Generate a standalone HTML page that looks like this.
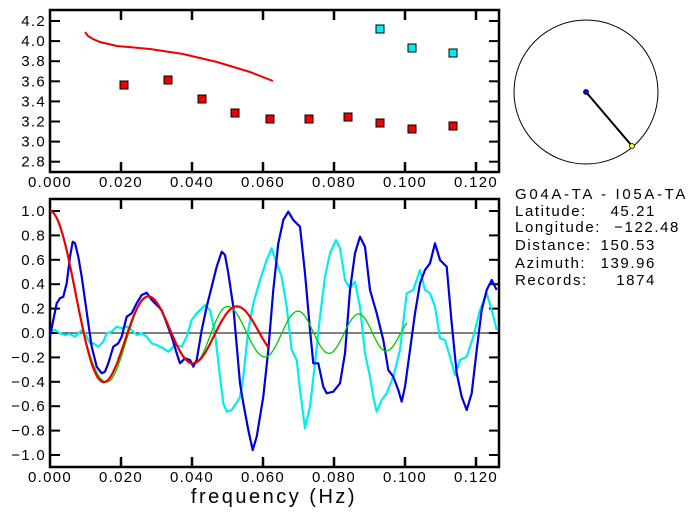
<!DOCTYPE html>
<html><head><meta charset="utf-8"><style>
html,body{margin:0;padding:0;background:#fff;}
svg{display:block;}
text{font-family:"Liberation Sans",sans-serif;font-size:15px;letter-spacing:1.3px;fill:#000;}
.info{font-size:15px;letter-spacing:1.6px;}
</style></head><body>
<svg id="s" width="697" height="519" xmlns="http://www.w3.org/2000/svg">
<g id="g"></g>
<circle cx="586" cy="92" r="72" fill="none" stroke="#000" stroke-width="1"/>
<line x1="586" y1="92" x2="632" y2="146" stroke="#000" stroke-width="2"/>
<circle cx="586" cy="92" r="2.5" fill="#00f" stroke="#000" stroke-width="0.8"/>
<circle cx="632" cy="146" r="2.5" fill="#ff0" stroke="#000" stroke-width="0.8"/>
<text class="info" x="515" y="199" textLength="172" lengthAdjust="spacing">G04A-TA  -  I05A-TA</text>
<text class="info" x="515" y="216">Latitude:</text><text class="info" x="656" y="216" text-anchor="end">45.21</text>
<text class="info" x="515" y="232">Longitude:</text><text class="info" x="680" y="232" text-anchor="end">−122.48</text>
<text class="info" x="515" y="250">Distance:</text><text class="info" x="656" y="250" text-anchor="end">150.53</text>
<text class="info" x="515" y="268">Azimuth:</text><text class="info" x="656" y="268" text-anchor="end">139.96</text>
<text class="info" x="515" y="285">Records:</text><text class="info" x="656" y="285" text-anchor="end">1874</text>
<text x="274" y="503" text-anchor="middle" style="font-size:20px;letter-spacing:2.5px">frequency (Hz)</text>
</svg>
<script>
var g=document.getElementById('g'),NS='http://www.w3.org/2000/svg';
function el(t,a){var e=document.createElementNS(NS,t);for(var k in a)e.setAttribute(k,a[k]);g.appendChild(e);return e;}
function tx(x,y,s,anc){var e=el('text',{x:x,y:y,'text-anchor':anc||'middle'});e.textContent=s;}
function X(f){return 50+f*3550;}
var T0=10,T1=172;function YT(v){return 21+(4.2-v)/0.2*20.1;}
var B0=199,B1=467;function YB(v){return 333-v*122;}
function box(y0,y1){el('rect',{x:50,y:y0,width:449,height:y1-y0,fill:'none',stroke:'#000','stroke-width':2.5});
for(var i=1;i<=6;i++){var x=X(i*0.02);el('line',{x1:x,y1:y0,x2:x,y2:y0+10,stroke:'#000','stroke-width':2.5});el('line',{x1:x,y1:y1,x2:x,y2:y1-10,stroke:'#000','stroke-width':2.5});}
for(var i=0;i<=6;i++)tx(X(i*0.02),y1+15,(i*0.02).toFixed(3));}
box(T0,T1);box(B0,B1);
for(var v=2.8;v<4.25;v+=0.2){var y=YT(v);el('line',{x1:50,y1:y,x2:60,y2:y,stroke:'#000','stroke-width':2});el('line',{x1:499,y1:y,x2:489,y2:y,stroke:'#000','stroke-width':2});tx(46,y+5,v.toFixed(1),'end');}
for(var i=-5;i<=5;i++){var v=i*0.2,y=YB(v);el('line',{x1:50,y1:y,x2:60,y2:y,stroke:'#000','stroke-width':2});el('line',{x1:499,y1:y,x2:489,y2:y,stroke:'#000','stroke-width':2});tx(46,y+5,(v<0?'−':'')+Math.abs(v).toFixed(1),'end');}
el('line',{x1:50,y1:333,x2:499,y2:333,stroke:'#000','stroke-width':1});
el('polyline',{points:'85,32 88,36 93,39 100,42 117,46 150,49 183,54 217,62 250,72 273,81',fill:'none',stroke:'#e00','stroke-width':2});
[[124,85],[168,80],[202,99],[235,113],[270,119],[309,119],[348,117],[380,123],[412,129],[453,126]].forEach(function(p){el('rect',{x:p[0]-4,y:p[1]-4,width:8,height:8,fill:'#e00',stroke:'#000','stroke-width':1});});
[[380,29],[412,48],[453,53]].forEach(function(p){el('rect',{x:p[0]-4,y:p[1]-4,width:8,height:8,fill:'#0ee',stroke:'#000','stroke-width':1});});
function J0(x){var s=0,n=200;for(var i=0;i<n;i++){var t=(i+0.5)*Math.PI/n;s+=Math.cos(x*Math.sin(t));}return s/n;}
var pts=[];for(var f=0;f<=0.062;f+=0.0005)pts.push(X(f).toFixed(1)+','+YB(J0(253*f)).toFixed(1));
var gk=[[0,0],[0.0095,2.405],[0.016,3.83],[0.0276,7.02],[0.0405,10.17],[0.050,13.32],[0.0606,16.47],[0.0698,19.6],[0.0786,22.76],[0.087,25.9],[0.0946,29.05],[0.1006,31.3]];
function gx(f){for(var i=1;i<gk.length;i++)if(f<=gk[i][0]){var a=gk[i-1],b=gk[i];return a[1]+(b[1]-a[1])*(f-a[0])/(b[0]-a[0]);}return 31.3;}
var gp=[];for(var f=0;f<=0.1006;f+=0.0005)gp.push(X(f).toFixed(1)+','+YB(J0(gx(f))).toFixed(1));
function conv(arr,ox,oy){return arr.map(function(p){return (ox+p[0]/3).toFixed(1)+','+(oy+p[1]/3).toFixed(1);}).join(' ');}
var c1=[[150,425],[165,420],[180,430],[195,435],[210,432],[225,440],[240,425],[250,420],[260,440],[270,460],[280,460],[295,470],[310,455],[320,430],[335,425],[350,410],[365,415],[380,410],[395,420],[410,435],[425,430],[440,440],[455,460],[470,465],[490,475],[505,485],[515,475],[525,465],[545,470],[560,440],[575,390],[590,370],[605,355],[615,345],[630,360],[645,430],[660,560],[670,640],[680,665],[695,660],[715,630]];
var c2=[[0,620],[10,560],[25,420],[40,340],[60,270],[80,210],[95,175],[110,220],[125,260],[140,350],[155,480],[170,510],[180,600],[195,715],[210,650],[225,520],[240,380],[255,260],[270,190],[288,150],[300,175],[315,270],[330,295],[345,275],[360,350],[375,490],[390,560],[400,620],[410,665],[425,630],[440,610],[460,560],[480,480],[500,310],[520,300],[540,240],[555,300],[570,310],[585,350],[600,445],[615,450],[630,500],[645,555],[660,510],[680,500],[700,440],[720,360],[740,310],[755,360],[770,420]];
var b1=[[150,440],[160,390],[170,340],[180,325],[190,320],[200,280],[210,200],[218,155],[225,160],[235,200],[245,260],[255,330],[265,400],[275,470],[290,530],[305,550],[315,545],[325,520],[340,470],[355,460],[365,440],[380,380],[395,370],[410,340],[425,315],[440,308],[455,330],[470,345],[485,360],[500,400],[515,440],[530,490],[540,520],[555,505],[570,510],[580,530],[590,510],[605,420],[620,350],[635,290],[650,230],[665,185],[675,195],[685,250],[700,350]];
var b2=[[0,580],[10,640],[25,720],[38,780],[50,740],[70,620],[85,480],[100,300],[115,160],[130,90],[145,65],[160,90],[180,110],[195,250],[210,420],[220,520],[235,520],[250,590],[260,610],[280,605],[300,580],[315,490],[330,300],[345,190],[360,140],[375,170],[390,300],[410,370],[430,450],[445,540],[460,560],[475,600],[485,635],[495,590],[510,480],[525,370],[540,280],[555,240],[570,220],[585,160],[600,210],[620,230],[635,400],[650,550],[665,620],[680,660],[695,610],[710,480],[725,360],[740,300],[755,270],[770,300]];
el('polyline',{points:conv(c1,0,190)+' '+conv(c2,240,190),fill:'none',stroke:'#0ee','stroke-width':2.2,'stroke-linejoin':'round'});
el('polyline',{points:conv(b1,0,190)+' '+conv(b2,240,190),fill:'none',stroke:'#00d','stroke-width':2.2,'stroke-linejoin':'round'});
el('polyline',{points:gp.join(' '),fill:'none',stroke:'#0c0','stroke-width':1.3});
el('polyline',{points:pts.join(' '),fill:'none',stroke:'#e00','stroke-width':2.2});
</script>
</body></html>
